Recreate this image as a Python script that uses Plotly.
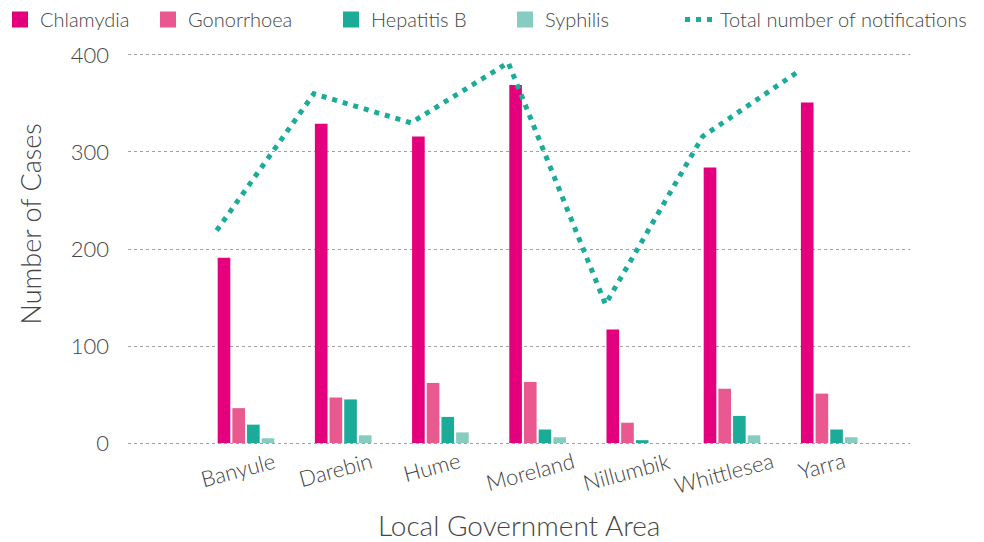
import plotly.graph_objects as go

# ---- data ----
areas = ["Banyule", "Darebin", "Hume", "Moreland", "Nillumbik", "Whittlesea", "Yarra"]
chlamydia = [191, 329, 316, 369, 117, 284, 351]
gonorrhoea = [36, 47, 62, 63, 21, 56, 51]
hepatitis_b = [19, 45, 27, 14, 3, 28, 14]
syphilis = [5, 8, 11, 6, 0, 8, 6]
total_notifications = [219, 360, 330, 392, 143, 316, 384]
y_ticks = [0, 100, 200, 300, 400]

FONT = "Lato Light, Lato, sans-serif"
TXT = "#454545"
colors = {
    "Chlamydia": "#E4007C",
    "Gonorrhoea": "#E9588E",
    "Hepatitis B": "#1AAB99",
    "Syphilis": "#86CDBF",
}
LINE_COLOR = "#1AAB99"

fig = go.Figure()

series = [("Chlamydia", chlamydia), ("Gonorrhoea", gonorrhoea),
          ("Hepatitis B", hepatitis_b), ("Syphilis", syphilis)]
legend_ids = ["legend", "legend2", "legend3", "legend4", "legend5"]
legend_x_px = [0, 148, 331, 505, 680]

for i, (name, vals) in enumerate(series):
    fig.add_trace(go.Bar(x=areas, y=vals, name=name, marker_color=colors[name],
                         marker_line_width=0, showlegend=False))
    # legend-only proxy with a larger square symbol
    fig.add_trace(go.Scatter(x=[None], y=[None], mode="markers", name=name,
                             marker=dict(symbol="square", size=17, color=colors[name]),
                             showlegend=True, legend=legend_ids[i]))

fig.add_trace(go.Scatter(x=areas, y=total_notifications, mode="lines",
                         name="Total number of notifications", xaxis="x2",
                         legend=legend_ids[4],
                         line=dict(color=LINE_COLOR, width=5, dash="5px,6px")))

x_range = [-1.214, 6.831]
shift = 0.302
layout_legends = {}
for lid, px in zip(legend_ids, legend_x_px):
    layout_legends[lid] = dict(orientation="h", xref="container", yref="container",
                               x=px / 984, y=1, xanchor="left", yanchor="top",
                               font=dict(size=20, color=TXT, family=FONT),
                               itemwidth=30, bgcolor="rgba(0,0,0,0)")

fig.update_layout(
    width=984, height=542,
    margin=dict(l=128, r=74, t=52, b=96, autoexpand=False),
    paper_bgcolor="white", plot_bgcolor="white",
    barmode="group", bargap=0.396, bargroupgap=0.14,
    font=dict(family=FONT, color=TXT),
    xaxis=dict(type="category", categoryarray=areas, range=x_range,
               showticklabels=False, showgrid=False, zeroline=False, showline=False),
    xaxis2=dict(type="category", categoryarray=areas, overlaying="x",
                range=[x_range[0] + shift, x_range[1] + shift],
                visible=False),
    yaxis=dict(range=[-3, 403], tickvals=y_ticks, showgrid=True,
               gridcolor="#a0a0a0", griddash="dot", gridwidth=1,
               zeroline=False, showline=False,
               tickfont=dict(size=22, color=TXT, family=FONT),
               ticklabelstandoff=18),
    **layout_legends,
)

annotations = []
for a in areas:
    annotations.append(dict(x=a, y=0, xref="x", yref="paper", text=a,
                            showarrow=False, textangle=-15, xanchor="center",
                            yanchor="top", yshift=2, xshift=-8,
                            font=dict(size=22, color=TXT, family=FONT)))
annotations.append(dict(x=-0.125, y=0.563, xref="paper", yref="paper",
                        text="Number of Cases", showarrow=False, textangle=-90,
                        xanchor="center", yanchor="middle",
                        font=dict(size=27, color=TXT, family=FONT)))
annotations.append(dict(x=0.5, y=-0.2005, xref="paper", yref="paper",
                        text="Local Government Area", showarrow=False,
                        xanchor="center", yanchor="middle",
                        font=dict(size=28, color=TXT, family=FONT)))
fig.update_layout(annotations=annotations)

fig.write_html("out.html")
